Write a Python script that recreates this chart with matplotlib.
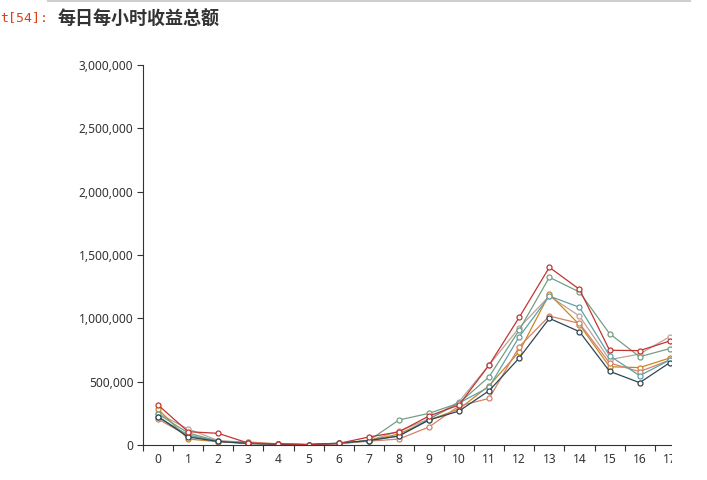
import matplotlib
matplotlib.use("Agg")
import matplotlib.pyplot as plt
from matplotlib.ticker import FuncFormatter, FixedLocator
from matplotlib.lines import Line2D
from matplotlib.patches import Rectangle

hours = list(range(18))
series_red = [316, 105, 92, 15, 8, 3, 12, 63, 103, 229, 316, 632, 1008, 1403, 1229, 748, 745, 821]
series_dark = [225, 63, 28, 12, 6, 3, 15, 35, 71, 197, 268, 429, 687, 1000, 895, 582, 492, 650]
series_teal = [221, 79, 30, 12, 6, 3, 12, 35, 71, 205, 331, 458, 855, 1176, 1087, 705, 547, 671]
series_salmon = [205, 71, 28, 24, 8, 3, 10, 30, 47, 142, 308, 368, 776, 1018, 960, 648, 579, 671]
series_green = [245, 95, 30, 15, 7, 3, 12, 35, 197, 250, 331, 539, 908, 1324, 1208, 879, 697, 761]
series_orange = [284, 47, 26, 12, 6, 3, 12, 35, 87, 197, 284, 468, 737, 1192, 950, 618, 611, 687]
series_pinkgray = [250, 126, 35, 20, 8, 3, 12, 35, 110, 205, 342, 632, 926, 1176, 1018, 674, 718, 855]

series = [
    (series_pinkgray, "#bda29a"),
    (series_orange, "#ca8622"),
    (series_green, "#749f83"),
    (series_salmon, "#d48265"),
    (series_teal, "#61a0a8"),
    (series_dark, "#2f4554"),
    (series_red, "#c23531"),
]

W, H = 707, 480
fig = plt.figure(figsize=(W / 100, H / 100), dpi=100)
fig.patch.set_facecolor("white")

x0, x1 = 143, 672
y0, y1 = 65, 445
ax = fig.add_axes([x0 / W, 1 - y1 / H, (x1 - x0) / W, (y1 - y0) / H])

for vals, col in series:
    ax.plot(hours, [v * 1000 for v in vals], color=col, lw=0.9,
            marker="o", markersize=3.6, markerfacecolor="white",
            markeredgecolor=col, markeredgewidth=0.9, clip_on=True)

for s in ["top", "right"]:
    ax.spines[s].set_visible(False)
for s in ["left", "bottom"]:
    ax.spines[s].set_color("#333333")
    ax.spines[s].set_linewidth(0.8)

ax.yaxis.set_major_locator(FixedLocator([0, 500000, 1000000, 1500000, 2000000, 2500000, 3000000]))
ax.yaxis.set_major_formatter(FuncFormatter(lambda v, p: f"{int(v):,}"))
ax.set_xticks(hours)
ax.set_xticklabels([str(h) for h in hours])
ax.set_xticks([h - 0.5 for h in range(18)], minor=True)
ax.tick_params(axis="x", which="major", length=0, pad=6, labelsize=8.6, labelcolor="#333333")
ax.tick_params(axis="x", which="minor", length=4, color="#333333", width=0.8)
ax.tick_params(axis="y", length=4, color="#333333", width=0.8, pad=3, labelsize=8.6, labelcolor="#333333")
for lab in ax.get_xticklabels() + ax.get_yticklabels():
    lab.set_fontfamily(["Noto Sans", "DejaVu Sans"])

ax.set_xlim(-0.5, -0.5 + (x1 - x0) / 30.1)
ax.set_ylim(0, 3000000)

# output area clips the wide chart on the right
fig.add_artist(Rectangle((x1 / W, 0), (W - x1) / W, 1 - 60 / H,
                         transform=fig.transFigure, facecolor="white",
                         edgecolor="none", zorder=10))

# notebook decoration
fig.add_artist(Line2D([48 / W, 690 / W], [1 - 1.2 / H, 1 - 1.2 / H], color="#cfcfcf", lw=1.5))
fig.text(0 / W, 1 - 18 / H, "t[54]:", color="#d84315", fontsize=9.5,
         family=["DejaVu Sans Mono"], va="center", ha="left")
fig.text(58 / W, 1 - 19 / H, "每日每小时收益总额", color="#333333", fontsize=13,
         fontweight="bold", family=["Noto Sans CJK SC", "DejaVu Sans"], va="center", ha="left")

fig.savefig("out.png", dpi=100)
